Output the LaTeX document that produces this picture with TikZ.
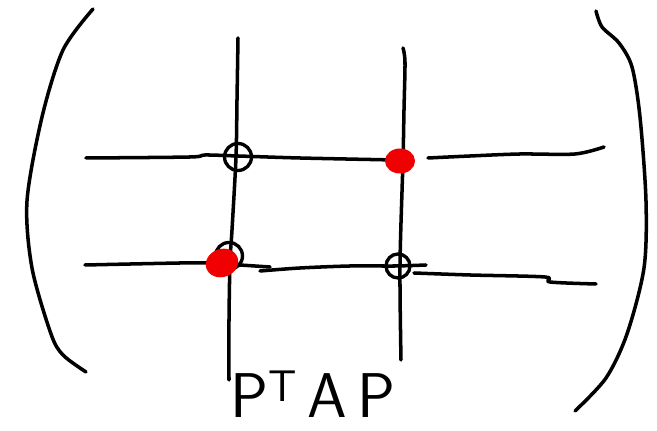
\documentclass[tikz,border=0pt]{standalone}
\usepackage{xcolor}
\definecolor{inkred}{RGB}{240,0,0}
\usetikzlibrary{positioning,shapes.geometric}

\begin{document}
\begin{tikzpicture}[x=0.02cm, y=-0.02cm,
  ink/.style={line width=2pt, line cap=round, line join=round},
  hole/.style={circle, draw, line width=1.9pt, inner sep=0pt, minimum size=0.54cm},
  blob/.style={ellipse, fill=inkred, inner sep=0pt, minimum width=0.66cm, minimum height=0.56cm}
]
\useasboundingbox (0,0) rectangle (657,431);

% Brackets
\draw[ink] plot[smooth] coordinates {(93,9) (63,50) (42,117) (27,201) (32,268) (51,334) (63,355) (86,372)};
\draw[ink] plot[smooth] coordinates {(596,11) (602,27) (619,43) (632,67) (640,117) (646,201) (644,268) (627,334) (606,378) (575,411)};

% Columns
\draw[ink] plot[smooth] coordinates {(238,38) (237,100) (236,157) (232,230) (230,262) (229,320) (229,380)};
\draw[ink] plot[smooth] coordinates {(403,48) (405,62) (404,110) (403,160) (400,265) (401,360)};

% Rows
\draw[ink] plot[smooth] coordinates {(86,158) (190,157) (205,155) (238,156) (300,158) (395,160)};
\draw[ink] plot[smooth] coordinates {(428,158) (470,156) (520,154) (575,154) (604,147)};
\draw[ink] plot[smooth] coordinates {(85,265) (180,263) (212,263) (240,265) (270,267)};
\draw[ink] plot[smooth] coordinates {(260,271) (300,268) (350,266) (395,266) (426,265)};
\draw[ink] plot[smooth] coordinates {(414,273) (470,275) (545,277) (550,282) (596,284)};

% Entries
\node[hole] (a11) at (238,157) {};
\node[blob, minimum width=0.6cm, minimum height=0.5cm] (a12) at (400,161) {};
\node[hole] (a21c) at (229,256) {};
\node[blob, rotate=20] (a21) at (222,263) {};
\node[hole, minimum size=0.48cm] (a22) at (398,266) {};

% Label
\node[font=\fontsize{36}{40}\selectfont\sffamily] (lbl) at (313,394) {P\textsuperscript{T}\,A\,P};
\end{tikzpicture}
\end{document}
